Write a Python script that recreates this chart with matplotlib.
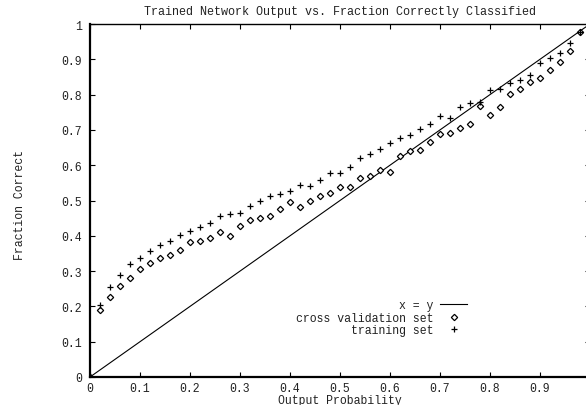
import matplotlib
matplotlib.use('Agg')
import matplotlib.pyplot as plt

# bin centres of the network output
prob = [0.00, 0.02, 0.04, 0.06, 0.08, 0.10, 0.12, 0.14, 0.16, 0.18,
        0.20, 0.22, 0.24, 0.26, 0.28, 0.30, 0.32, 0.34, 0.36, 0.38,
        0.40, 0.42, 0.44, 0.46, 0.48, 0.50, 0.52, 0.54, 0.56, 0.58,
        0.60, 0.62, 0.64, 0.66, 0.68, 0.70, 0.72, 0.74, 0.76, 0.78,
        0.80, 0.82, 0.84, 0.86, 0.88, 0.90, 0.92, 0.94, 0.96, 0.98]

cross_val = [0.000, 0.190, 0.228, 0.257, 0.280, 0.305, 0.322, 0.338, 0.345, 0.361,
             0.383, 0.385, 0.395, 0.411, 0.400, 0.428, 0.445, 0.450, 0.456, 0.476,
             0.497, 0.481, 0.499, 0.513, 0.520, 0.538, 0.539, 0.565, 0.570, 0.587,
             0.582, 0.626, 0.639, 0.643, 0.665, 0.688, 0.690, 0.705, 0.716, 0.767,
             0.742, 0.766, 0.803, 0.817, 0.835, 0.847, 0.870, 0.892, 0.923, 0.978]

training = [0.000, 0.205, 0.256, 0.290, 0.321, 0.338, 0.358, 0.375, 0.385, 0.402,
            0.414, 0.426, 0.437, 0.455, 0.463, 0.465, 0.485, 0.500, 0.513, 0.519,
            0.526, 0.545, 0.540, 0.559, 0.577, 0.577, 0.596, 0.620, 0.633, 0.646,
            0.662, 0.677, 0.686, 0.702, 0.718, 0.738, 0.735, 0.764, 0.775, 0.780,
            0.814, 0.816, 0.833, 0.842, 0.856, 0.889, 0.903, 0.918, 0.945, 0.978]

x_ticks = [0, 0.1, 0.2, 0.3, 0.4, 0.5, 0.6, 0.7, 0.8, 0.9]
x_tick_labels = ['0', '0.1', '0.2', '0.3', '0.4', '0.5', '0.6', '0.7', '0.8', '0.9']
y_ticks = [0, 0.1, 0.2, 0.3, 0.4, 0.5, 0.6, 0.7, 0.8, 0.9, 1]
y_tick_labels = ['0', '0.1', '0.2', '0.3', '0.4', '0.5', '0.6', '0.7', '0.8', '0.9', '1']

plt.rcParams['font.family'] = ['Liberation Mono', 'DejaVu Sans Mono']
plt.rcParams['font.size'] = 8.3
text_color = '#222222'

fig = plt.figure(figsize=(5.86, 4.06), dpi=100)
# right border sits just past the image edge, like the gnuplot original
ax = fig.add_axes([90 / 586, 28 / 406, 500 / 586, 353 / 406])

ax.plot([0, 1], [0, 1], color='black', lw=0.8, label='x = y')
ax.plot(prob, cross_val, linestyle='none', marker='D', ms=3.2, mfc='white',
        mec='black', mew=0.9, label='cross validation set')
ax.plot(prob, training, linestyle='none', marker='+', ms=5, color='black',
        mew=0.9, label='training set')

ax.set_xlim(0, 1)
ax.set_ylim(0, 1)
ax.set_xticks(x_ticks)
ax.set_xticklabels(x_tick_labels)
ax.set_yticks(y_ticks)
ax.set_yticklabels(y_tick_labels)
ax.tick_params(direction='in', length=3.5, width=0.8, top=True, right=True,
               color='black', labelcolor=text_color, labelsize=8.3)
ax.tick_params(axis='x', pad=3.5)
ax.tick_params(axis='y', pad=6)

for side in ['bottom', 'left']:
    ax.spines[side].set_linewidth(1.6)
for side in ['top', 'right']:
    ax.spines[side].set_linewidth(1.0)

ax.set_title('Trained Network Output vs. Fraction Correctly Classified',
             fontsize=8.5, pad=7, color=text_color)
ax.set_xlabel('Output Probability', labelpad=0, color=text_color)
ax.set_ylabel('Fraction Correct', color=text_color)
ax.yaxis.set_label_coords(-0.128, 0.49)

leg = ax.legend(loc='upper right', bbox_to_anchor=(377 / 500, 1 - 275 / 353),
                markerfirst=False, frameon=False, handlelength=2.3,
                handletextpad=0.6, labelspacing=0.05, borderpad=0,
                borderaxespad=0, fontsize=8.3)
for t in leg.get_texts():
    t.set_color(text_color)

plt.savefig('out.png', dpi=100)
plt.close()
